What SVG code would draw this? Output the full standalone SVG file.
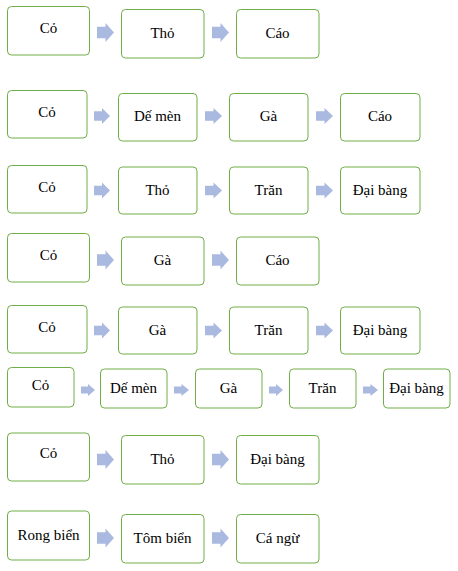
<svg xmlns="http://www.w3.org/2000/svg" width="458" height="571" viewBox="0 0 458 571">
<style>
.box{fill:#fff;stroke:#70AD47;stroke-width:1}
.t{font-family:"Liberation Serif",serif;font-size:15px;fill:#000;text-anchor:middle}
.arr{fill:#AAB9E0;stroke:none}
</style>
<rect width="458" height="571" fill="#fff"/>
<!-- Row 1 -->
<g id="r1a"><rect class="box" x="7.5" y="6.5" width="82" height="48.5" rx="4"/><text class="t" x="48.5" y="33">Cỏ</text></g>
<g id="r1b"><rect class="box" x="121.5" y="9.5" width="82.5" height="48.5" rx="4"/><text class="t" x="162.5" y="38">Thỏ</text></g>
<g id="r1c"><rect class="box" x="236.5" y="9.5" width="82.5" height="48.5" rx="4"/><text class="t" x="277.5" y="38">Cáo</text></g>
<!-- Row 2 -->
<g id="r2a"><rect class="box" x="7.5" y="90.5" width="79.5" height="47.5" rx="4"/><text class="t" x="47" y="117">Cỏ</text></g>
<g id="r2b"><rect class="box" x="118.5" y="93.5" width="78.5" height="47.5" rx="4"/><text class="t" x="157.5" y="121">Dế mèn</text></g>
<g id="r2c"><rect class="box" x="229.5" y="93.5" width="78.5" height="47.5" rx="4"/><text class="t" x="268.5" y="121">Gà</text></g>
<g id="r2d"><rect class="box" x="340.5" y="93.5" width="79.5" height="47.5" rx="4"/><text class="t" x="380" y="121">Cáo</text></g>
<!-- Row 3 -->
<g id="r3a"><rect class="box" x="7.5" y="165.5" width="79.5" height="47.5" rx="4"/><text class="t" x="47" y="192">Cỏ</text></g>
<g id="r3b"><rect class="box" x="118.5" y="167" width="78.5" height="47" rx="4"/><text class="t" x="157.5" y="195">Thỏ</text></g>
<g id="r3c"><rect class="box" x="229.5" y="167" width="78.5" height="47" rx="4"/><text class="t" x="268.5" y="195">Trăn</text></g>
<g id="r3d"><rect class="box" x="340.5" y="167" width="79.5" height="47" rx="4"/><text class="t" x="380" y="195">Đại bàng</text></g>
<!-- Row 4 -->
<g id="r4a"><rect class="box" x="7.5" y="233.5" width="82" height="48.5" rx="4"/><text class="t" x="48.5" y="260">Cỏ</text></g>
<g id="r4b"><rect class="box" x="121.5" y="237" width="82.5" height="48" rx="4"/><text class="t" x="162.5" y="265">Gà</text></g>
<g id="r4c"><rect class="box" x="236.5" y="237" width="82.5" height="48" rx="4"/><text class="t" x="277.5" y="265">Cáo</text></g>
<!-- Row 5 -->
<g id="r5a"><rect class="box" x="7.5" y="305.5" width="79.5" height="47.5" rx="4"/><text class="t" x="47" y="332">Cỏ</text></g>
<g id="r5b"><rect class="box" x="118.5" y="307" width="78.5" height="47" rx="4"/><text class="t" x="157.5" y="335">Gà</text></g>
<g id="r5c"><rect class="box" x="229.5" y="307" width="78.5" height="47" rx="4"/><text class="t" x="268.5" y="335">Trăn</text></g>
<g id="r5d"><rect class="box" x="340.5" y="307" width="79.5" height="47" rx="4"/><text class="t" x="380" y="335">Đại bàng</text></g>
<!-- Row 6 -->
<g id="r6a"><rect class="box" x="7.5" y="367.5" width="66.5" height="39.5" rx="4"/><text class="t" x="40.5" y="390">Cỏ</text></g>
<g id="r6b"><rect class="box" x="100.5" y="369" width="66.5" height="39" rx="4"/><text class="t" x="133.5" y="393">Dế mèn</text></g>
<g id="r6c"><rect class="box" x="195.5" y="369" width="66.5" height="39" rx="4"/><text class="t" x="228.5" y="393">Gà</text></g>
<g id="r6d"><rect class="box" x="289.5" y="369" width="66.5" height="39" rx="4"/><text class="t" x="322.5" y="393">Trăn</text></g>
<g id="r6e"><rect class="box" x="383.5" y="369" width="66.5" height="39" rx="4"/><text class="t" x="416.5" y="393">Đại bàng</text></g>
<!-- Row 7 -->
<g id="r7a"><rect class="box" x="7.5" y="433" width="82" height="48" rx="4"/><text class="t" x="48.5" y="458">Cỏ</text></g>
<g id="r7b"><rect class="box" x="121.5" y="435.5" width="82.5" height="48.5" rx="4"/><text class="t" x="162.5" y="464">Thỏ</text></g>
<g id="r7c"><rect class="box" x="236.5" y="435.5" width="82.5" height="48.5" rx="4"/><text class="t" x="277.5" y="464">Đại bàng</text></g>
<!-- Row 8 -->
<g id="r8a"><rect class="box" x="7.5" y="511" width="82" height="49" rx="4"/><text class="t" x="48.5" y="540">Rong biển</text></g>
<g id="r8b"><rect class="box" x="121.5" y="514.5" width="82.5" height="48.5" rx="4"/><text class="t" x="162.5" y="543">Tôm biển</text></g>
<g id="r8c"><rect class="box" x="236.5" y="514.5" width="82.5" height="48.5" rx="4"/><text class="t" x="277.5" y="543">Cá ngừ</text></g>
<g id="connectors">
<path class="arr" d="M97,26.8 H105.5 V23 L114,32.5 L105.5,42 V38.2 H97 Z"/>
<path class="arr" d="M212,26.8 H220.5 V23 L229,32.5 L220.5,42 V38.2 H212 Z"/>
<path class="arr" d="M94,111.2 H102 V108 L110,116 L102,124 V120.8 H94 Z"/>
<path class="arr" d="M205,111.2 H213.5 V108 L222,116 L213.5,124 V120.8 H205 Z"/>
<path class="arr" d="M316,111.2 H324.5 V108 L333,116 L324.5,124 V120.8 H316 Z"/>
<path class="arr" d="M94,185.7 H102 V182.5 L110,190.5 L102,198.5 V195.3 H94 Z"/>
<path class="arr" d="M205,185.7 H213.5 V182.5 L222,190.5 L213.5,198.5 V195.3 H205 Z"/>
<path class="arr" d="M316,185.7 H324.5 V182.5 L333,190.5 L324.5,198.5 V195.3 H316 Z"/>
<path class="arr" d="M97,254.3 H105.5 V250.5 L114,260 L105.5,269.5 V265.7 H97 Z"/>
<path class="arr" d="M212,254.3 H220.5 V250.5 L229,260 L220.5,269.5 V265.7 H212 Z"/>
<path class="arr" d="M94,325.7 H102 V322.5 L110,330.5 L102,338.5 V335.3 H94 Z"/>
<path class="arr" d="M205,325.7 H213.5 V322.5 L222,330.5 L213.5,338.5 V335.3 H205 Z"/>
<path class="arr" d="M316,325.7 H324.5 V322.5 L333,330.5 L324.5,338.5 V335.3 H316 Z"/>
<path class="arr" d="M81,386.4 H88 V384 L95,390 L88,396 V393.6 H81 Z"/>
<path class="arr" d="M174,386.4 H181.5 V384 L189,390 L181.5,396 V393.6 H174 Z"/>
<path class="arr" d="M269,386.4 H276 V384 L283,390 L276,396 V393.6 H269 Z"/>
<path class="arr" d="M363,386.4 H370.5 V384 L378,390 L370.5,396 V393.6 H363 Z"/>
<path class="arr" d="M97,453.8 H105.5 V450 L114,459.5 L105.5,469 V465.2 H97 Z"/>
<path class="arr" d="M212,453.8 H220.5 V450 L229,459.5 L220.5,469 V465.2 H212 Z"/>
<path class="arr" d="M97,532.3 H105.5 V528.5 L114,538 L105.5,547.5 V543.7 H97 Z"/>
<path class="arr" d="M212,532.3 H220.5 V528.5 L229,538 L220.5,547.5 V543.7 H212 Z"/>
</g>
</svg>
